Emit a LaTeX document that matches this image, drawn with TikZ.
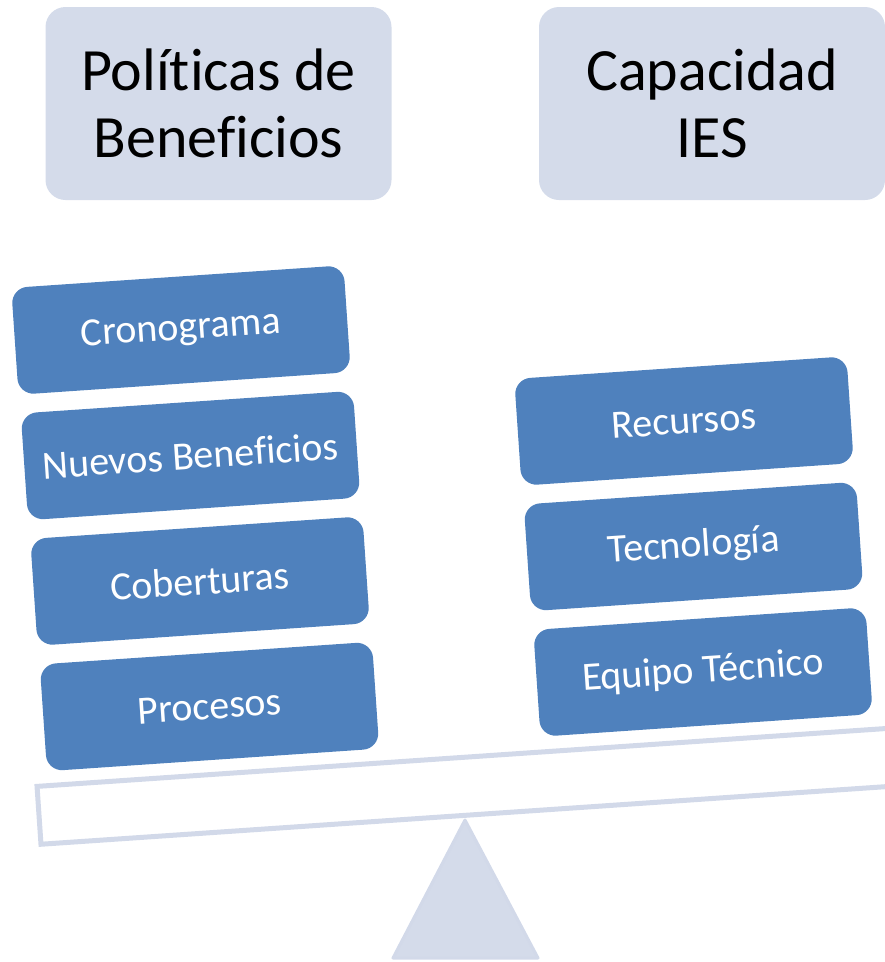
\documentclass[tikz,border=0pt]{standalone}
\usepackage{fontspec}
\setmainfont[Ligatures={NoCommon,NoRequired,NoContextual}]{Carlito}
\usepackage{xcolor}
\usepackage{tikz}
\usetikzlibrary{positioning,calc}

\definecolor{headfill}{HTML}{D4DBEA}
\definecolor{itemblue}{HTML}{4F81BD}
\definecolor{baledge}{HTML}{D2D9E9}

\tikzset{
    header/.style={fill=headfill, rounded corners=20pt, minimum width=346pt, minimum height=193pt,
        align=center, text=black, font=\fontsize{60}{67}\selectfont},
    item/.style={fill=itemblue, rounded corners=16pt, minimum width=333pt, minimum height=107pt,
        text=white, font=\fontsize{40}{46}\selectfont, rotate=3.9},
    beam/.style={draw=baledge, line width=5pt, fill=white, minimum width=862pt, minimum height=58pt, rotate=3.9},
    fulcrum/.style={draw=baledge, line width=3pt, fill=headfill, line join=round}
}

\begin{document}
\begin{tikzpicture}[x=1pt, y=-1pt]
    \useasboundingbox (0,0) rectangle (885,962);
    \clip (0,0) rectangle (885,962);

    % Header boxes
    \node[header] (politicas) at (218.5,103.5) {Políticas de\\Beneficios};
    \node[header] (capacidad) at (712,103.5) {Capacidad\\IES};

    % Balance
    \node[beam] (beam) at (469,786) {};
    \draw[fulcrum] (465,820) -- (538,958) -- (393,958) -- cycle;

    % Left stack
    \foreach \txt [count=\i] in {Cronograma, Nuevos Beneficios, Coberturas, Procesos}
        \node[item] (left\i) at ({181+9.5*(\i-1)}, {330+125.5*(\i-1)}) {\txt};

    % Right stack
    \foreach \txt [count=\i] in {Recursos, Tecnología, Equipo Técnico}
        \node[item] (right\i) at ({684+9.5*(\i-1)}, {421+125.5*(\i-1)}) {\txt};
\end{tikzpicture}
\end{document}
